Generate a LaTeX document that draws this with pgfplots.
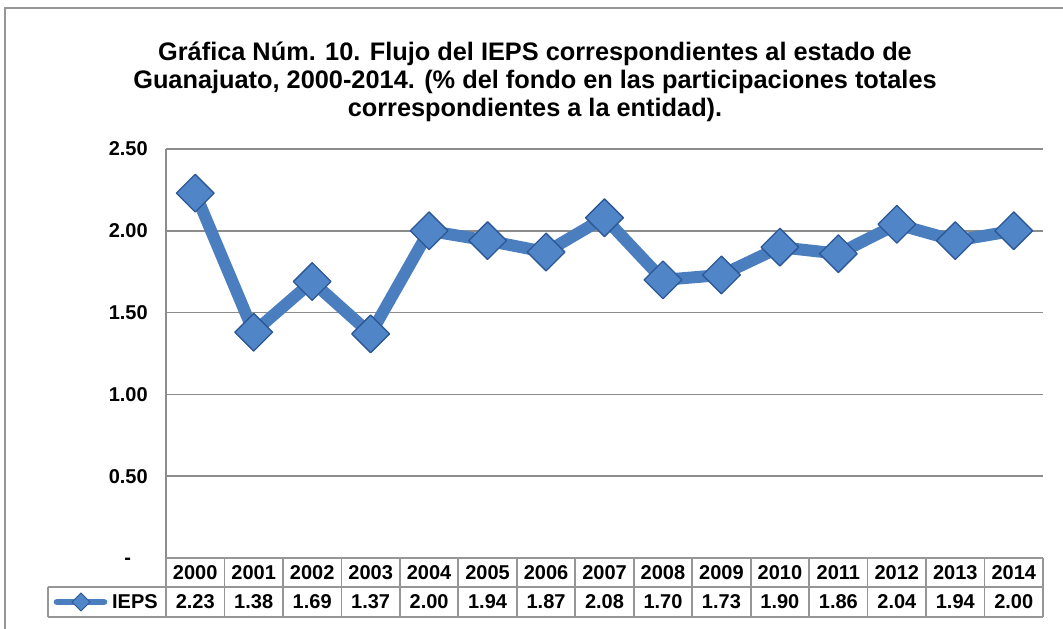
\documentclass[border=0pt]{standalone}
\usepackage{fontspec}
\setmainfont{Liberation Sans}
\usepackage{pgfplots}
\pgfplotsset{compat=1.18}
\definecolor{ieps}{RGB}{74,126,190}
\definecolor{iepsdark}{RGB}{45,88,150}
\definecolor{iepsmark}{RGB}{80,133,200}
\definecolor{gridgray}{RGB}{140,140,140}
\definecolor{framegray}{RGB}{150,150,150}

\pgfplotstableread{
x year value
0 2000 2.23
1 2001 1.38
2 2002 1.69
3 2003 1.37
4 2004 2.00
5 2005 1.94
6 2006 1.87
7 2007 2.08
8 2008 1.70
9 2009 1.73
10 2010 1.90
11 2011 1.86
12 2012 2.04
13 2013 1.94
14 2014 2.00
}\iepsdata

\newcommand{\cellfont}{\bfseries\fontsize{15}{18}\selectfont}

\begin{document}
\begin{tikzpicture}
% everything outside the axis is laid out in image pixels (1px = 0.75pt)
\begin{scope}[x=0.75pt,y=-0.75pt,shift={(-124.5pt,418.5pt)}]
  \useasboundingbox (0,0) rectangle (1063,628);
  \begin{scope}
    \clip (0,0) rectangle (1063,628);
    \draw[framegray,line width=1.5pt] (5,8) rectangle (1090,660);
  \end{scope}
  \node[align=center,font=\bfseries\fontsize{19}{21.2}\selectfont] at (535,82)
    {Gráfica Núm. 10. Flujo del IEPS correspondientes al estado de\\
     Guanajuato, 2000-2014. (\% del fondo en las participaciones totales\\
     correspondientes a la entidad).};
\end{scope}

\begin{axis}[
  at={(0,0)}, anchor=south west,
  scale only axis, width=657.75pt, height=306.75pt,
  xmin=-0.5, xmax=14.5, ymin=0, ymax=2.5,
  xtick=\empty,
  ytick={0,0.5,1,1.5,2,2.5},
  yticklabels={{-\phantom{0.}},0.50,1.00,1.50,2.00,2.50},
  major tick length=0pt,
  axis line style={draw=none},
  ymajorgrids, grid style={gridgray,line width=1.3pt},
  /pgf/number format/assume math mode=true,
  yticklabel style={font=\cellfont, inner xsep=0pt, xshift=-13.5pt},
  clip=false,
]
  \addplot[ieps, line width=9pt, line join=round,
    mark=square*, mark size=10pt,
    mark options={rotate=45, fill=iepsmark, draw=iepsdark, line width=1pt}]
    table[x=x,y=value]{\iepsdata};
\end{axis}

\begin{scope}[x=0.75pt,y=-0.75pt,shift={(-124.5pt,418.5pt)}]
  \draw[gridgray,line width=1.3pt] (166,149) -- (166,558);
  \begin{scope}[framegray,line width=1.3pt]
    \draw (166,558) -- (1043,558);
    \draw (48,587) -- (1043,587);
    \draw (48,617) -- (1043,617);
    \draw (48,587) -- (48,617);
    \foreach \k in {0,...,15}
      \draw ({166+58.4667*\k},558) -- ({166+58.4667*\k},617);
  \end{scope}
  % legend key
  \draw[ieps,line width=5pt,line cap=round] (57,602) -- (104,602);
  \draw[iepsdark,fill=iepsmark,line width=0.6pt] (81,593) -- (90,602) -- (81,611) -- (72,602) -- cycle;
  \node[font=\cellfont,anchor=east,inner xsep=0pt] at (158,602) {IEPS};
  \foreach \yr/\v [count=\i from 0] in {2000/2.23,2001/1.38,2002/1.69,2003/1.37,
      2004/2.00,2005/1.94,2006/1.87,2007/2.08,2008/1.70,2009/1.73,2010/1.90,
      2011/1.86,2012/2.04,2013/1.94,2014/2.00} {
    \node[font=\cellfont] at ({166+58.4667*(\i+0.5)},573) {\yr};
    \node[font=\cellfont] at ({166+58.4667*(\i+0.5)},602) {\v};
  }
\end{scope}
\end{tikzpicture}
\end{document}
